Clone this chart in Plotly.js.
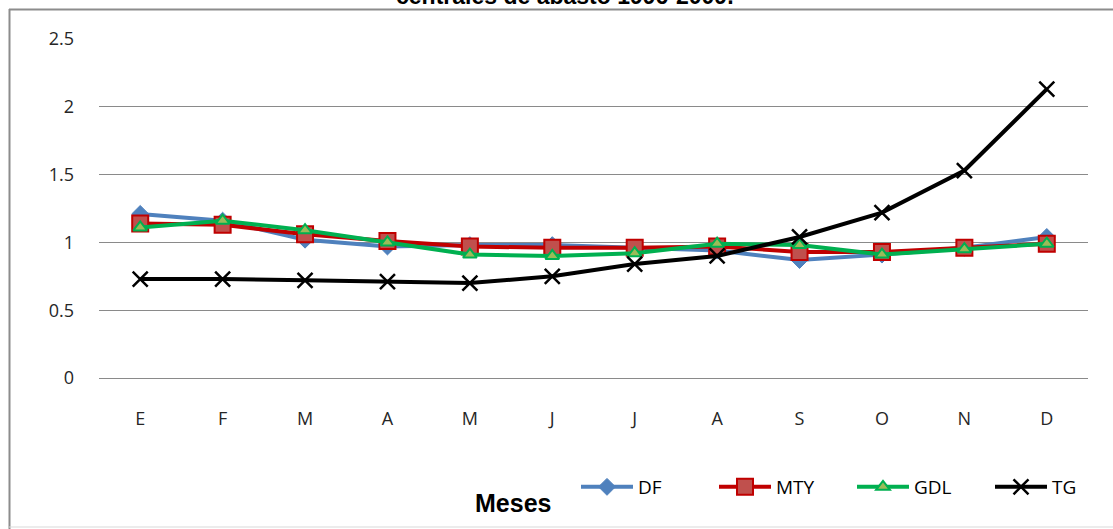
<!DOCTYPE html>
<html>
<head>
<meta charset="utf-8">
<script src="https://cdn.plot.ly/plotly-3.0.1.min.js"></script>
<style>
html,body{margin:0;padding:0;background:#fff;}
#chart{width:1113px;height:529px;}
</style>
</head>
<body>
<div id="chart"></div>
<script>
const months = ["E","F","M","A","M","J","J","A","S","O","N","D"];
const DF  = [1.21, 1.16, 1.02, 0.97, 0.98, 0.98, 0.96, 0.94, 0.87, 0.91, 0.96, 1.04];
const MTY = [1.14, 1.13, 1.06, 1.01, 0.97, 0.96, 0.96, 0.97, 0.93, 0.93, 0.96, 0.99];
const GDL = [1.11, 1.16, 1.09, 1.00, 0.91, 0.90, 0.92, 0.99, 0.98, 0.91, 0.95, 0.99];
const TG  = [0.73, 0.73, 0.72, 0.71, 0.70, 0.75, 0.84, 0.90, 1.04, 1.22, 1.53, 2.13];
const yTicks = [0, 0.5, 1, 1.5, 2, 2.5];
const yTickText = ["0", "0.5", "1", "1.5", "2", "2.5"];

const xIdx = months.map((m, i) => i);

const traces = [
  {name: "DF", x: xIdx, y: DF, mode: "lines+markers", type: "scatter",
   line: {color: "#4F81BD", width: 4},
   marker: {symbol: "diamond", size: 13, color: "#4F81BD", line: {color: "#4F81BD", width: 1}}},
  {name: "MTY", x: xIdx, y: MTY, mode: "lines+markers", type: "scatter",
   line: {color: "#C00000", width: 4},
   marker: {symbol: "square", size: 16, color: "#C0504D", line: {color: "#C00000", width: 2}}},
  {name: "GDL", x: xIdx, y: GDL, mode: "lines+markers", type: "scatter",
   line: {color: "#00B050", width: 4},
   marker: {symbol: "triangle-up", size: 12, color: "#9BBB59", line: {color: "#00B050", width: 2}}},
  {name: "TG", x: xIdx, y: TG, mode: "lines+markers", type: "scatter",
   line: {color: "#000000", width: 4},
   marker: {symbol: "x-thin", size: 15, color: "#000000", line: {color: "#000000", width: 2.5}}}
];

const L = 99, R = 25, T = 39, B = 151;
const pw = 1113 - L - R, ph = 529 - T - B;
const px = v => (v - L) / pw;
const py = v => (529 - B - v) / ph;

const layout = {
  width: 1113, height: 529,
  margin: {l: L, r: R, t: T, b: B, pad: 0, autoexpand: false},
  paper_bgcolor: "#ffffff", plot_bgcolor: "#ffffff",
  font: {family: "Open Sans, Arial, sans-serif", color: "#000000"},
  showlegend: true,
  xaxis: {
    range: [-0.5, 11.5], tickmode: "array", tickvals: xIdx, ticktext: months,
    showgrid: false, zeroline: false, showline: false, ticks: "",
    ticklabelstandoff: 28,
    tickfont: {family: "Open Sans, Arial, sans-serif", size: 18, color: "#262626"},
    fixedrange: true
  },
  yaxis: {
    range: [0, 2.5], tickmode: "array", tickvals: yTicks, ticktext: yTickText,
    showgrid: true, gridcolor: "#8a8a8a", gridwidth: 1,
    zeroline: true, zerolinecolor: "#8a8a8a", zerolinewidth: 1, showline: false,
    ticks: "", ticklabelstandoff: 24,
    tickfont: {family: "Open Sans, Arial, sans-serif", size: 18, color: "#262626"},
    fixedrange: true
  },
  legend: {
    orientation: "h", x: px(576), xanchor: "left", y: py(487), yanchor: "middle",
    font: {family: "Open Sans, Arial, sans-serif", size: 19, color: "#000"},
    bgcolor: "rgba(0,0,0,0)", itemwidth: 52, tracegroupgap: 0,
    entrywidth: 71, entrywidthmode: "pixels"
  },
  annotations: [
    {text: "<b>Meses</b>", xref: "paper", yref: "paper", x: px(513), y: py(503),
     xanchor: "center", yanchor: "middle", showarrow: false,
     font: {family: "Arial, Liberation Sans, sans-serif", size: 25, color: "#000"}},
    {text: "<b>centrales de abasto 1996-2009.</b>", xref: "paper", yref: "paper",
     x: px(565), y: py(-4), xanchor: "center", yanchor: "middle", showarrow: false,
     font: {family: "Arial, Liberation Sans, sans-serif", size: 23, color: "#000"}}
  ],
  shapes: [
    {type: "line", xref: "paper", yref: "paper", x0: px(9), x1: px(1113), y0: py(9.5), y1: py(9.5),
     line: {color: "#8c8c8c", width: 2}},
    {type: "line", xref: "paper", yref: "paper", x0: px(9.5), x1: px(9.5), y0: py(9), y1: py(529),
     line: {color: "#8c8c8c", width: 2}},
    {type: "line", xref: "paper", yref: "paper", x0: px(9), x1: px(1113), y0: py(527), y1: py(527),
     line: {color: "#d9d9d9", width: 1}}
  ]
};

Plotly.newPlot("chart", traces, layout, {displayModeBar: false, staticPlot: true});
</script>
</body>
</html>
